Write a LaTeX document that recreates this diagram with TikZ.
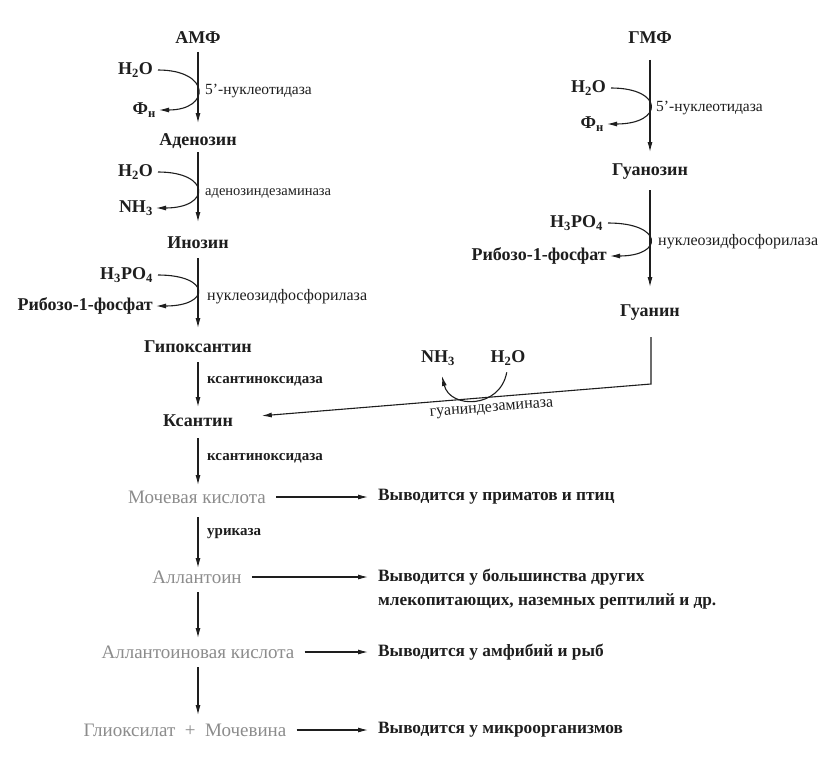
\documentclass[tikz,border=0pt]{standalone}
\usepackage{fontspec}
\setmainfont{Liberation Serif}
\usetikzlibrary{arrows.meta,calc}
\definecolor{ink}{HTML}{1E1E1E}
\definecolor{pale}{HTML}{8C8C8C}
\tikzset{
  cmp/.style={font=\fontsize{18}{21}\selectfont\bfseries, text=ink, inner sep=0pt},
  grey/.style={font=\fontsize{19}{22}\selectfont, text=pale, inner sep=0pt},
  side/.style={font=\fontsize{18}{21}\selectfont\bfseries, text=ink, inner sep=0pt, anchor=east},
  enz/.style={font=\fontsize{16}{19}\selectfont, text=ink, inner sep=0pt, anchor=west},
  enzb/.style={font=\fontsize{15}{18}\selectfont\bfseries, text=ink, inner sep=0pt, anchor=west},
  outp/.style={font=\fontsize{17.3}{21}\selectfont\bfseries, text=ink, inner sep=0pt, anchor=west},
  arr/.style={draw=ink, line width=1.1pt, -{Latex[length=10pt,width=5pt]}},
}
\begin{document}
\begin{tikzpicture}[x=1pt,y=-1pt]
\useasboundingbox[fill=white] (0,0) rectangle (840,760);
% main compounds
\node[cmp] (amf)  at (198,38)  {АМФ};
\node[cmp] (aden) at (198,141) {Аденозин};
\node[cmp] (ino)  at (198,243) {Инозин};
\node[cmp] (hypo) at (198,347) {Гипоксантин};
\node[cmp] (xan)  at (198,421) {Ксантин};
\node[grey] (uric)  at (197,497) {Мочевая кислота};
\node[grey] (allan) at (197,577) {Аллантоин};
\node[grey] (allac) at (198,652) {Аллантоиновая кислота};
\node[grey] (glyox) at (185,730) {Глиоксилат\ \ +\ \ Мочевина};
\node[cmp] (gmf) at (650,38)  {ГМФ};
\node[cmp] (guo) at (650,172) {Гуанозин};
\node[cmp] (gua) at (650,313) {Гуанин};
% side reactants
\node[side] (h2oA) at (153,70)  {H\textsubscript{2}O};
\node[side] (phA)  at (156,110) {Ф\textsubscript{н}};
\node[side] (h2oB) at (153,172) {H\textsubscript{2}O};
\node[side] (nh3B) at (153,208) {NH\textsubscript{3}};
\node[side] (h3pC) at (153,275) {H\textsubscript{3}PO\textsubscript{4}};
\node[side] (ribC) at (153,306) {Рибозо-1-фосфат};
\node[side] (h2oD) at (606,88)  {H\textsubscript{2}O};
\node[side] (phD)  at (604,124) {Ф\textsubscript{н}};
\node[side] (h3pE) at (603,223) {H\textsubscript{3}PO\textsubscript{4}};
\node[side] (ribE) at (607,256) {Рибозо-1-фосфат};
\node[cmp] (nh3F) at (438,358) {NH\textsubscript{3}};
\node[cmp] (h2oF) at (508,358) {H\textsubscript{2}O};
% enzymes
\node[enz, font=\fontsize{15.5}{18}\selectfont] (enzA) at (205,91)  {5'-нуклеотидаза};
\node[enz, font=\fontsize{14.5}{17}\selectfont] (enzB) at (205,193) {аденозиндезаминаза};
\node[enz]  (enzC) at (207,297) {нуклеозидфосфорилаза};
\node[enzb] (enzD) at (207,381) {ксантиноксидаза};
\node[enzb] (enzE) at (207,458) {ксантиноксидаза};
\node[enzb] (enzF) at (207,534) {уриказа};
\node[enz, font=\fontsize{15.5}{18}\selectfont] (enzG) at (656,108) {5'-нуклеотидаза};
\node[enz]  (enzH) at (658,242) {нуклеозидфосфорилаза};
% outcomes
\node[outp] (out1)  at (378,497) {Выводится у приматов и птиц};
\node[outp] (out2)  at (378,577) {Выводится у большинства других};
\node[outp] (out2b) at (378,601) {млекопитающих, наземных рептилий и др.};
\node[outp] (out3)  at (378,652) {Выводится у амфибий и рыб};
\node[outp] (out4)  at (378,730) {Выводится у микроорганизмов};
% main vertical arrows
\draw[arr, shorten <=14pt, shorten >=18pt] (amf.center) -- (aden.center);
\draw[arr, shorten <=11pt, shorten >=21pt] (aden.center) -- (ino.center);
\draw[arr, shorten <=15pt, shorten >=19pt] (ino.center) -- (hypo.center);
\draw[arr, shorten <=15pt, shorten >=14pt] (hypo.center) -- (xan.center);
\draw[arr, shorten <=17pt, shorten >=12pt] (xan.center) -- (xan.center |- uric.center);
\draw[arr, shorten <=20pt, shorten >=9pt] (xan.center |- uric.center) -- (xan.center |- allan.center);
\draw[arr, shorten <=15pt, shorten >=14pt] (xan.center |- allan.center) -- (xan.center |- allac.center);
\draw[arr, shorten <=15pt, shorten >=15pt] (xan.center |- allac.center) -- (xan.center |- glyox.center);
\draw[arr, shorten <=22pt, shorten >=20pt] (gmf.center) -- (guo.center);
\draw[arr, shorten <=18pt, shorten >=26pt] (guo.center) -- (gua.center);
% guanine -> xanthine
\coordinate (gc) at (651,384);
\draw[arr, shorten >=64pt] ([xshift=1pt,yshift=-24pt]gua.center) -- (gc) --
  node[pos=0.354, below=3pt, sloped, font=\fontsize{16}{19}\selectfont, text=ink] {гуаниндезаминаза} (xan.center);
\draw[arr, shorten <=7pt] (h2oF.south) .. controls (500,409) and (450,409) .. ([xshift=4pt,yshift=-18pt]nh3F.center);
% side curves
\draw[arr, shorten <=5pt, shorten >=3pt] (h2oA.east) .. controls (211,70) and (211,110) .. (phA.east);
\draw[arr, shorten <=5pt, shorten >=3pt] (h2oB.east) .. controls (211,172) and (211,208) .. (nh3B.east);
\draw[arr, shorten <=5pt, shorten >=3pt] (h3pC.east) .. controls (211,275) and (211,306) .. (ribC.east);
\draw[arr, shorten <=5pt, shorten >=3pt] (h2oD.east) .. controls (664,88) and (664,124) .. (phD.east);
\draw[arr, shorten <=5pt, shorten >=3pt] (h3pE.east) .. controls (664,223) and (664,256) .. (ribE.east);
% outcome arrows
\draw[arr, shorten <=10pt, shorten >=10pt] (uric.east) -- (uric.east -| out1.west);
\draw[arr, shorten <=10pt, shorten >=10pt] (allan.east) -- (allan.east -| out2.west);
\draw[arr, shorten <=10pt, shorten >=10pt] (allac.east) -- (allac.east -| out3.west);
\draw[arr, shorten <=10pt, shorten >=10pt] (glyox.east) -- (glyox.east -| out4.west);
\end{tikzpicture}
\end{document}
